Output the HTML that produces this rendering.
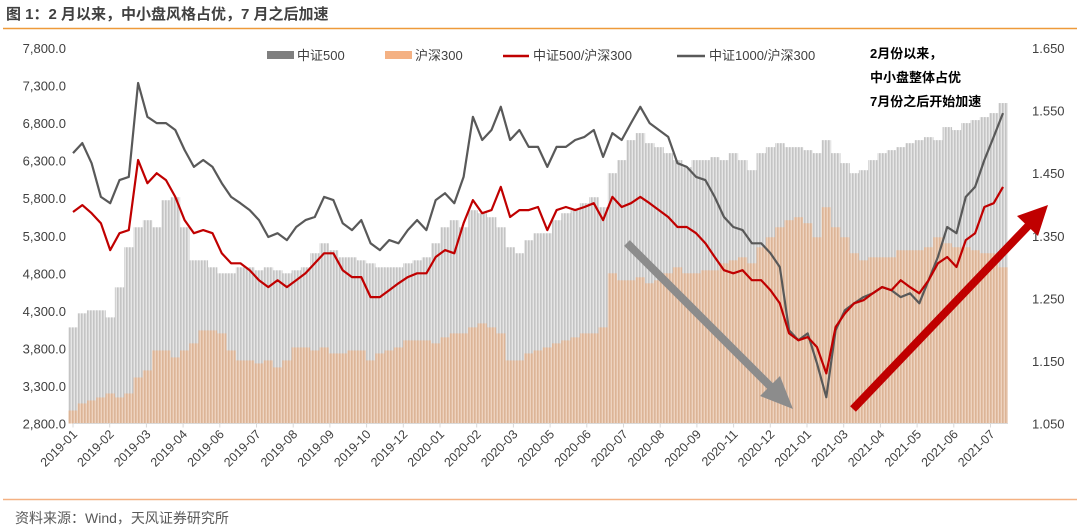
<!DOCTYPE html>
<html><head><meta charset="utf-8">
<style>
html,body{margin:0;padding:0;background:#fff;}
body{width:1080px;height:529px;overflow:hidden;position:relative;font-family:"Liberation Sans","Noto Sans CJK SC",sans-serif;}
svg{position:absolute;left:0;top:0;}
</style></head>
<body>
<svg id="chart" width="1080" height="529" viewBox="0 0 1080 529" xmlns="http://www.w3.org/2000/svg" font-family="Liberation Sans, Noto Sans CJK SC, sans-serif">
  <defs>
    <pattern id="pg" width="3" height="10" patternUnits="userSpaceOnUse">
      <rect width="3" height="10" fill="#e6e6e6"/><rect width="1.6" height="10" fill="#c4c4c4"/>
    </pattern>
    <pattern id="po" width="3" height="10" patternUnits="userSpaceOnUse">
      <rect width="3" height="10" fill="#eed3bf"/><rect width="1.6" height="10" fill="#dcb496"/>
    </pattern>
  </defs>
  <text x="6" y="19" font-size="15" font-weight="bold" fill="#404040">图 1：2 月以来，中小盘风格占优，7 月之后加速</text>
  <line x1="3" y1="28.5" x2="1077" y2="28.5" stroke="#ee9a3a" stroke-width="1.5"/>
  <line x1="3" y1="499.5" x2="1077" y2="499.5" stroke="#f4b183" stroke-width="1.5"/>
  <text x="15" y="523" font-size="14" fill="#595959">资料来源：Wind，天风证券研究所</text>
  <g id="bars"></g>
  <g id="axes"></g>
  <g id="lines"></g>
  <g font-size="13" fill="#404040">
    <rect x="267" y="51" width="27" height="8" fill="#7f7f7f"/>
    <text x="297" y="60">中证500</text>
    <rect x="385" y="51" width="27" height="8" fill="#f4b183"/>
    <text x="415" y="60">沪深300</text>
    <line x1="503" y1="56" x2="529" y2="56" stroke="#c00000" stroke-width="2.5"/>
    <text x="533" y="60">中证500/沪深300</text>
    <line x1="677" y1="56" x2="705" y2="56" stroke="#595959" stroke-width="2.5"/>
    <text x="709" y="60">中证1000/沪深300</text>
  </g>
  <g font-size="13" font-weight="bold" fill="#000">
    <text x="870" y="58">2月份以来，</text>
    <text x="870" y="82">中小盘整体占优</text>
    <text x="870" y="106">7月份之后开始加速</text>
  </g>
  <g>
    <line x1="627" y1="243" x2="775" y2="391" stroke="#8c8c8c" stroke-width="8"/>
    <polygon points="793,409 760,396 780,376" fill="#8c8c8c"/>
  </g>
  <g>
    <line x1="853" y1="409" x2="1030" y2="224" stroke="#c00000" stroke-width="8"/>
    <polygon points="1048,205 1017,216 1038,236" fill="#c00000"/>
  </g>
</svg>
<script>
const monthLabels = ["2019-01","2019-02","2019-03","2019-04","2019-06","2019-07","2019-08","2019-09","2019-10","2019-12","2020-01","2020-02","2020-03","2020-05","2020-06","2020-07","2020-08","2020-09","2020-11","2020-12","2021-01","2021-03","2021-04","2021-05","2021-06","2021-07"];
const leftTicks = [2800,3300,3800,4300,4800,5300,5800,6300,6800,7300,7800];
const rightTicks = [1.05,1.15,1.25,1.35,1.45,1.55,1.65];
const csi500 = [4080,4267,4307,4307,4213,4613,5147,5413,5507,5413,5773,5813,5413,4973,4973,4880,4800,4800,4880,4880,4840,4880,4840,4800,4840,4880,5067,5200,5107,5013,5013,4973,4933,4880,4880,4880,4933,4973,5013,5200,5413,5507,5413,5640,5600,5547,5413,5147,5067,5240,5333,5333,5507,5600,5640,5733,5813,5680,6133,6307,6573,6667,6533,6480,6400,6307,6213,6307,6307,6347,6307,6400,6307,6173,6400,6480,6533,6480,6480,6440,6400,6573,6400,6267,6133,6173,6307,6400,6440,6480,6533,6573,6613,6573,6747,6707,6800,6840,6880,6933,7067];
const hs300 = [2973,3067,3107,3147,3200,3147,3200,3413,3507,3773,3773,3680,3773,3867,4040,4040,4000,3773,3640,3640,3600,3640,3547,3640,3813,3813,3773,3813,3733,3733,3773,3773,3640,3733,3773,3813,3907,3907,3907,3867,3947,4000,4000,4080,4133,4080,4000,3640,3640,3733,3773,3813,3867,3907,3947,4000,4000,4080,4800,4707,4707,4747,4667,4707,4800,4880,4800,4800,4840,4840,4933,4973,5013,4933,5147,5280,5413,5507,5547,5467,5280,5680,5413,5280,5067,4973,5013,5013,5013,5107,5107,5107,5147,5280,5200,5147,5147,5107,5067,5067,4880];
const ratio500 = [1.388,1.399,1.386,1.370,1.327,1.354,1.359,1.471,1.434,1.450,1.439,1.412,1.375,1.354,1.359,1.354,1.322,1.306,1.306,1.295,1.279,1.268,1.279,1.268,1.279,1.290,1.306,1.322,1.322,1.295,1.284,1.284,1.252,1.252,1.263,1.274,1.284,1.290,1.290,1.316,1.327,1.322,1.370,1.407,1.386,1.391,1.428,1.380,1.391,1.391,1.396,1.359,1.391,1.396,1.391,1.396,1.402,1.375,1.412,1.396,1.402,1.412,1.402,1.391,1.380,1.364,1.364,1.354,1.338,1.316,1.295,1.290,1.295,1.279,1.279,1.263,1.242,1.194,1.183,1.188,1.172,1.130,1.204,1.226,1.242,1.247,1.258,1.268,1.263,1.279,1.268,1.258,1.279,1.306,1.316,1.300,1.343,1.354,1.396,1.402,1.428];
const ratio1000 = [1.482,1.498,1.466,1.412,1.402,1.439,1.444,1.594,1.540,1.530,1.530,1.519,1.487,1.460,1.471,1.460,1.434,1.412,1.402,1.391,1.375,1.348,1.354,1.343,1.364,1.375,1.380,1.412,1.407,1.370,1.359,1.375,1.338,1.327,1.343,1.338,1.359,1.375,1.359,1.407,1.418,1.402,1.444,1.540,1.503,1.519,1.556,1.503,1.519,1.492,1.492,1.460,1.492,1.492,1.503,1.508,1.519,1.476,1.514,1.503,1.530,1.556,1.530,1.519,1.508,1.466,1.460,1.444,1.439,1.412,1.380,1.364,1.359,1.338,1.338,1.322,1.300,1.199,1.183,1.194,1.146,1.092,1.199,1.231,1.242,1.252,1.258,1.268,1.263,1.252,1.258,1.242,1.279,1.316,1.364,1.354,1.412,1.428,1.471,1.508,1.546];

const NS = "http://www.w3.org/2000/svg";
const X0 = 73, X1 = 1003, YB = 423.5, YT = 48;
const yL = v => YB - (v - 2800) / 5000 * (YB - YT);
const yR = v => YB - (v - 1.05) / 0.6 * (YB - YT);
const n = csi500.length;
const xAt = i => X0 + i * (X1 - X0) / (n - 1);
const step = (X1 - X0) / (n - 1);
function mk(tag, attrs, parent) {
  const el = document.createElementNS(NS, tag);
  for (const k in attrs) el.setAttribute(k, attrs[k]);
  parent.appendChild(el);
  return el;
}
const bars = document.getElementById('bars');
const axes = document.getElementById('axes');
const lines = document.getElementById('lines');

for (let i = 0; i < n; i++) {
  const x = xAt(i) - step / 2;
  const b1 = mk('rect', {x: x, y: yL(csi500[i]), width: step + 0.2, height: YB - yL(csi500[i]), fill: 'url(#pg)'}, bars);
  
  
  const b2 = mk('rect', {x: x, y: yL(hs300[i]), width: step + 0.2, height: YB - yL(hs300[i]), fill: 'url(#po)'}, bars);
  
  
}

leftTicks.forEach(v => {
  const t = mk('text', {x: 66, y: yL(v) + 5, 'text-anchor': 'end', 'font-size': 13, fill: '#404040'}, axes);
  t.textContent = v.toLocaleString('en-US', {minimumFractionDigits: 1, maximumFractionDigits: 1});
  
  
});
rightTicks.forEach(v => {
  const t = mk('text', {x: 1032, y: yR(v) + 5, 'font-size': 13, fill: '#404040'}, axes);
  t.textContent = v.toFixed(3);
  
  
});
const ax = mk('line', {x1: X0, y1: YB, x2: 1008, y2: YB, stroke: '#d9d9d9', 'stroke-width': 1}, axes);


const tickStep = 36.7;
monthLabels.forEach((m, k) => {
  const tx = X0 + k * tickStep;
  const tk = mk('line', {x1: tx, y1: YB, x2: tx, y2: YB + 4, stroke: '#d9d9d9'}, axes);
  
  
  const t = mk('text', {x: tx + 5, y: 435, 'text-anchor': 'end', 'font-size': 12.5, fill: '#404040', transform: `rotate(-45 ${tx + 5} 435)`}, axes);
  t.textContent = m;
  
  
});

function path(arr, f) {
  return arr.map((v, i) => (i ? 'L' : 'M') + xAt(i).toFixed(1) + ',' + f(v).toFixed(1)).join(' ');
}
const l2 = mk('path', {d: path(ratio1000, yR), fill: 'none', stroke: '#595959', 'stroke-width': 2.2, 'stroke-linejoin': 'round'}, lines);


const l1 = mk('path', {d: path(ratio500, yR), fill: 'none', stroke: '#c00000', 'stroke-width': 2.2, 'stroke-linejoin': 'round'}, lines);


</script>
</body></html>
